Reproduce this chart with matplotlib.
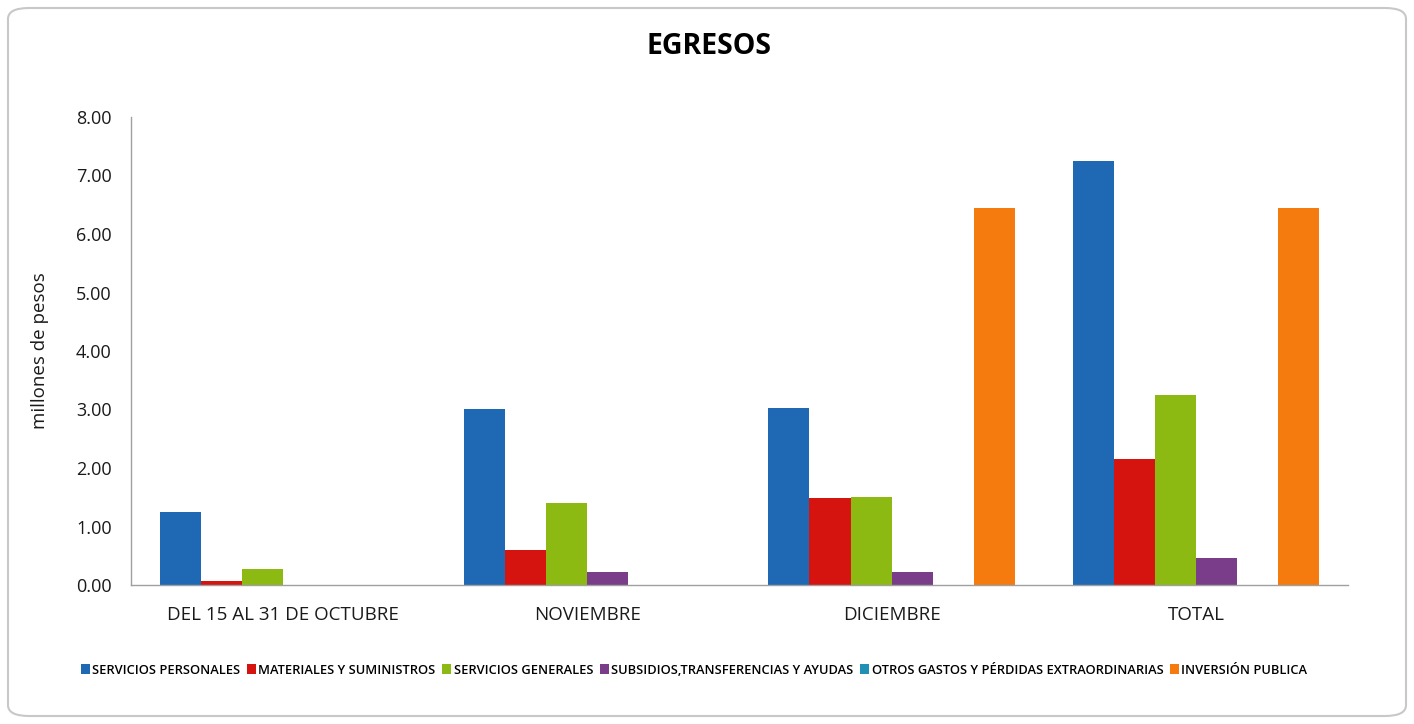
import matplotlib
matplotlib.use("Agg")
import matplotlib.pyplot as plt
from matplotlib.patches import FancyBboxPatch
import numpy as np

categories = ["DEL 15 AL 31 DE OCTUBRE", "NOVIEMBRE", "DICIEMBRE", "TOTAL"]
series_names = ["SERVICIOS PERSONALES", "MATERIALES Y SUMINISTROS", "SERVICIOS GENERALES",
                "SUBSIDIOS,TRANSFERENCIAS Y AYUDAS", "OTROS GASTOS Y PÉRDIDAS EXTRAORDINARIAS",
                "INVERSIÓN PUBLICA"]
servicios_personales = [1.24, 3.01, 3.02, 7.25]
materiales_suministros = [0.06, 0.59, 1.49, 2.15]
servicios_generales = [0.27, 1.40, 1.51, 3.24]
subsidios = [0.0, 0.22, 0.23, 0.46]
otros_gastos = [0.0, 0.0, 0.0, 0.0]
inversion_publica = [0.0, 0.0, 6.45, 6.45]
yticks = [0, 1, 2, 3, 4, 5, 6, 7, 8]

series = [servicios_personales, materiales_suministros, servicios_generales,
          subsidios, otros_gastos, inversion_publica]
colors = ["#1f68b3", "#d5140f", "#8cba12", "#7a3d8a", "#2190b5", "#f57b0f"]

plt.rcParams['font.family'] = ['Open Sans', 'DejaVu Sans']

fig = plt.figure(figsize=(14.14, 7.24), dpi=100)
fig.patch.set_facecolor("white")
box = FancyBboxPatch((8/1414, 8/724), 1398/1414, 708/724,
                     boxstyle="round,pad=0,rounding_size=0.015",
                     transform=fig.transFigure, facecolor="white",
                     edgecolor="#c8c8c8", linewidth=1.5, zorder=-10)
fig.patches.append(box)

ax = fig.add_axes([131/1414, 1-585/724, (1348-131)/1414, (585-117)/724])
ax.set_zorder(1)
ax.set_facecolor("none")
x = np.arange(len(categories))
w = 0.135
for i, (vals, c, name) in enumerate(zip(series, colors, series_names)):
    ax.bar(x + (i - 2.5) * w, vals, width=w, color=c, label=name, zorder=2)

ax.set_xlim(-0.5, 3.5)
ax.set_ylim(0, 8)
ax.set_yticks(yticks)
ax.set_yticklabels([f"{v:.2f}" for v in yticks], fontsize=13, color="#1a1a1a")
ax.set_xticks(x)
ax.set_xticklabels(categories, fontsize=13.5, color="#1a1a1a")
ax.tick_params(axis='x', length=0, pad=15)
ax.tick_params(axis='y', length=0, pad=14)
for s in ["top", "right"]:
    ax.spines[s].set_visible(False)
for s in ["left", "bottom"]:
    ax.spines[s].set_color("#a0a0a0")
    ax.spines[s].set_linewidth(1.0)
ax.set_ylabel("millones de pesos", fontsize=13.5, color="#1a1a1a")
ax.yaxis.set_label_coords((49 - 131) / (1348 - 131), 0.5)

fig.text(709/1414, 1-47/724, "EGRESOS", ha="center", va="center",
         fontsize=20.5, fontweight="bold")

leg = fig.legend(loc="center", bbox_to_anchor=(694/1414, 1-670/724), ncol=6,
                 frameon=False, handlelength=0.7, handleheight=0.7,
                 handletextpad=0.2, columnspacing=0.5,
                 prop={'family': 'Open Sans', 'size': 9.3, 'weight': 'semibold'})

fig.savefig("out.png", dpi=100)
